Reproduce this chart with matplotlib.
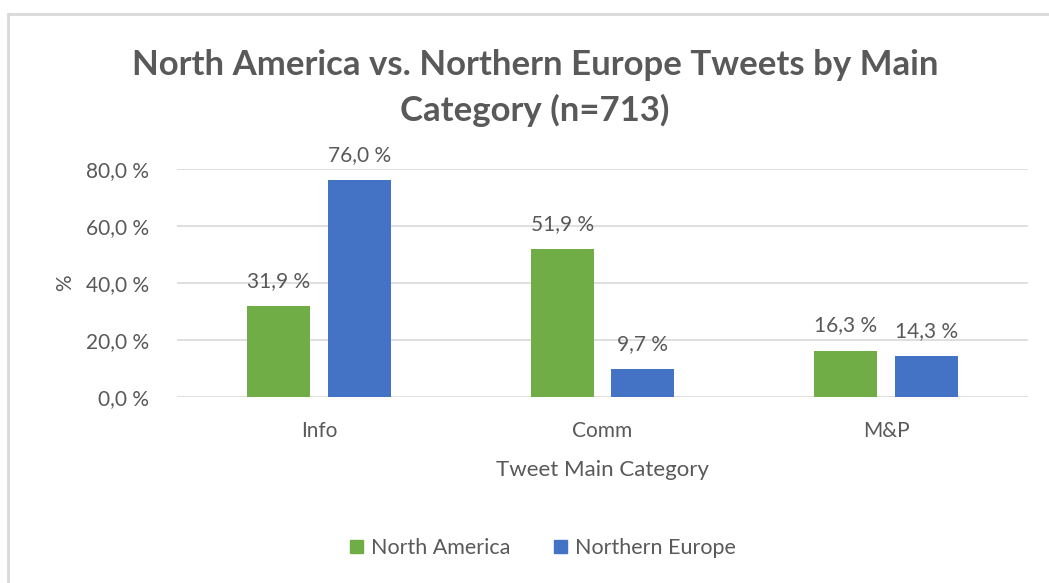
import numpy as np
import matplotlib.pyplot as plt
from matplotlib.lines import Line2D
from matplotlib.patches import Patch

categories = ["Info", "Comm", "M&P"]
north_america = [31.9, 51.9, 16.3]
northern_europe = [76.0, 9.7, 14.3]
series_names = ["North America", "Northern Europe"]
y_ticks = [0, 20, 40, 60, 80]

GREEN = "#70AD47"
BLUE = "#4472C4"
TXT = "#595959"
GRID = "#D9D9D9"

plt.rcParams['font.family'] = ['Lato', 'DejaVu Sans']


def fmt(v):
    return f"{v:.1f}".replace(".", ",") + " %"


def main():
    fig = plt.figure(figsize=(10.49, 5.83), dpi=100)
    ax = fig.add_axes([177 / 1049, 1 - 397 / 583, (1028 - 177) / 1049, (397 - 169) / 583])

    x = np.arange(len(categories))
    w = 0.222
    off = 0.142
    b1 = ax.bar(x - off, north_america, w, color=GREEN, zorder=3)
    b2 = ax.bar(x + off, northern_europe, w, color=BLUE, zorder=3)

    for bars, vals in ((b1, north_america), (b2, northern_europe)):
        for b, v in zip(bars, vals):
            ax.annotate(fmt(v), (b.get_x() + b.get_width() / 2, v),
                        xytext=(0, 11), textcoords="offset points",
                        ha="center", va="bottom", fontsize=15, color=TXT)

    ax.set_xlim(-0.5, len(categories) - 0.5)
    ax.set_ylim(0, 80)
    ax.set_yticks(y_ticks)
    ax.set_yticklabels([fmt(v) for v in y_ticks])
    ax.set_xticks(x)
    ax.set_xticklabels(categories)
    ax.tick_params(axis="both", length=0, labelsize=15, labelcolor=TXT)
    ax.tick_params(axis="y", pad=20)
    ax.tick_params(axis="x", pad=17)
    ax.grid(axis="y", color=GRID, linewidth=1.2, zorder=0)
    for s in ax.spines.values():
        s.set_visible(False)

    ax.set_ylabel("%", fontsize=15, color=TXT, labelpad=8)
    ax.set_xlabel("Tweet Main Category", fontsize=16, color=TXT, labelpad=14)

    fig.text(535 / 1049, 1 - 88 / 583,
             "North America vs. Northern Europe Tweets by Main\nCategory (n=713)",
             ha="center", va="center", fontsize=25, fontweight="bold",
             color=TXT, linespacing=1.45)

    handles = [Patch(color=GREEN), Patch(color=BLUE)]
    fig.legend(handles, series_names, loc="center", bbox_to_anchor=(543 / 1049, 1 - 548 / 583),
               ncol=2, frameon=False, fontsize=15.5, labelcolor=TXT,
               handlelength=0.6, handleheight=0.6, handletextpad=0.4, columnspacing=2.0)

    # chart border (top and left only visible)
    fig.add_artist(Line2D([8 / 1049, 8 / 1049], [0, 1 - 14 / 583], color=GRID, linewidth=2))
    fig.add_artist(Line2D([8 / 1049, 1], [1 - 14 / 583, 1 - 14 / 583], color=GRID, linewidth=2))

    fig.savefig("out.png", dpi=100)


if __name__ == "__main__":
    main()
